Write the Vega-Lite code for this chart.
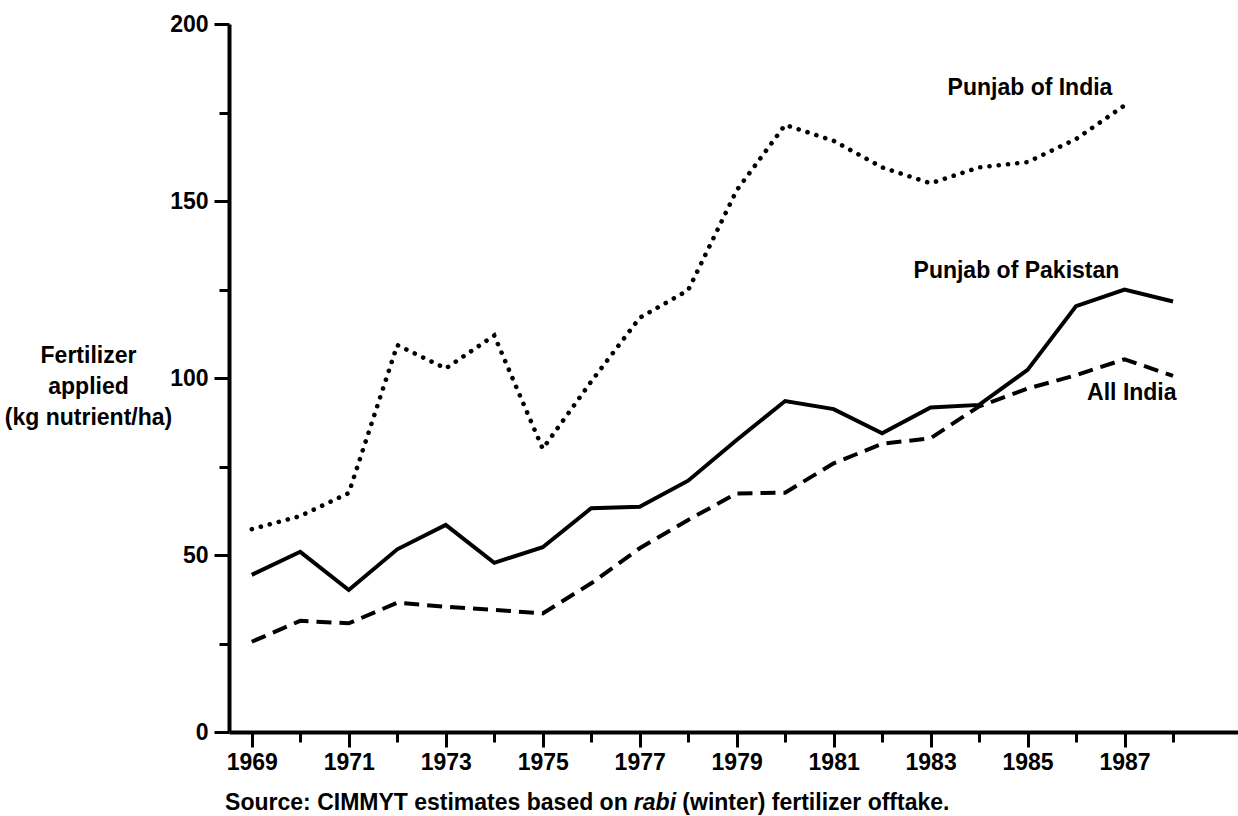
{
  "$schema": "https://vega.github.io/schema/vega-lite/v6.json",
  "width": 1009,
  "height": 708,
  "autosize": {"type": "none"},
  "padding": {"left": 229, "top": 24, "right": 0, "bottom": 84},
  "background": "white",
  "config": {"view": {"stroke": null}, "font": "Liberation Sans"},
  "datasets": {
    "series": [
      {"year": 1969, "series": "Punjab of India", "value": 57.3},
      {"year": 1970, "series": "Punjab of India", "value": 61},
      {"year": 1971, "series": "Punjab of India", "value": 67.5},
      {"year": 1972, "series": "Punjab of India", "value": 109.3},
      {"year": 1973, "series": "Punjab of India", "value": 102.7},
      {"year": 1974, "series": "Punjab of India", "value": 112},
      {"year": 1975, "series": "Punjab of India", "value": 80},
      {"year": 1976, "series": "Punjab of India", "value": 99},
      {"year": 1977, "series": "Punjab of India", "value": 117},
      {"year": 1978, "series": "Punjab of India", "value": 124.8},
      {"year": 1979, "series": "Punjab of India", "value": 153},
      {"year": 1980, "series": "Punjab of India", "value": 171.5},
      {"year": 1981, "series": "Punjab of India", "value": 167},
      {"year": 1982, "series": "Punjab of India", "value": 159.5},
      {"year": 1983, "series": "Punjab of India", "value": 155},
      {"year": 1984, "series": "Punjab of India", "value": 159.5},
      {"year": 1985, "series": "Punjab of India", "value": 161},
      {"year": 1986, "series": "Punjab of India", "value": 167.5},
      {"year": 1987, "series": "Punjab of India", "value": 177},
      {"year": 1969, "series": "Punjab of Pakistan", "value": 44.4},
      {"year": 1970, "series": "Punjab of Pakistan", "value": 50.9},
      {"year": 1971, "series": "Punjab of Pakistan", "value": 40.1},
      {"year": 1972, "series": "Punjab of Pakistan", "value": 51.6},
      {"year": 1973, "series": "Punjab of Pakistan", "value": 58.5},
      {"year": 1974, "series": "Punjab of Pakistan", "value": 47.8},
      {"year": 1975, "series": "Punjab of Pakistan", "value": 52.2},
      {"year": 1976, "series": "Punjab of Pakistan", "value": 63.2},
      {"year": 1977, "series": "Punjab of Pakistan", "value": 63.6},
      {"year": 1978, "series": "Punjab of Pakistan", "value": 71},
      {"year": 1979, "series": "Punjab of Pakistan", "value": 82.5},
      {"year": 1980, "series": "Punjab of Pakistan", "value": 93.5},
      {"year": 1981, "series": "Punjab of Pakistan", "value": 91.2},
      {"year": 1982, "series": "Punjab of Pakistan", "value": 84.4},
      {"year": 1983, "series": "Punjab of Pakistan", "value": 91.7},
      {"year": 1984, "series": "Punjab of Pakistan", "value": 92.4},
      {"year": 1985, "series": "Punjab of Pakistan", "value": 102.3},
      {"year": 1986, "series": "Punjab of Pakistan", "value": 120.3},
      {"year": 1987, "series": "Punjab of Pakistan", "value": 125},
      {"year": 1988, "series": "Punjab of Pakistan", "value": 121.6},
      {"year": 1969, "series": "All India", "value": 25.5},
      {"year": 1970, "series": "All India", "value": 31.4},
      {"year": 1971, "series": "All India", "value": 30.7},
      {"year": 1972, "series": "All India", "value": 36.5},
      {"year": 1973, "series": "All India", "value": 35.4},
      {"year": 1974, "series": "All India", "value": 34.5},
      {"year": 1975, "series": "All India", "value": 33.5},
      {"year": 1976, "series": "All India", "value": 42},
      {"year": 1977, "series": "All India", "value": 51.9},
      {"year": 1978, "series": "All India", "value": 59.9},
      {"year": 1979, "series": "All India", "value": 67.4},
      {"year": 1980, "series": "All India", "value": 67.6},
      {"year": 1981, "series": "All India", "value": 75.9},
      {"year": 1982, "series": "All India", "value": 81.4},
      {"year": 1983, "series": "All India", "value": 83},
      {"year": 1984, "series": "All India", "value": 92},
      {"year": 1985, "series": "All India", "value": 97},
      {"year": 1986, "series": "All India", "value": 100.8},
      {"year": 1987, "series": "All India", "value": 105.3},
      {"year": 1988, "series": "All India", "value": 100.6}
    ],
    "labels": [
      {"year": 1985.05, "value": 180, "text": "Punjab of India"},
      {"year": 1984.77, "value": 128.2, "text": "Punjab of Pakistan"},
      {"year": 1987.15, "value": 93.8, "text": "All India"}
    ],
    "source": [
      {"year": 1968.45, "value": -22, "text": "Source: CIMMYT estimates based on"},
      {"year": 1977.88, "value": -22, "text": "(winter) fertilizer offtake."}
    ],
    "sourceItalic": [
      {"year": 1976.88, "value": -22, "text": "rabi"}
    ]
  },
  "encoding": {
    "x": {
      "field": "year",
      "type": "quantitative",
      "scale": {"domain": [1968.53, 1989.34], "nice": false, "zero": false},
      "axis": {
        "values": [1969, 1970, 1971, 1972, 1973, 1974, 1975, 1976, 1977, 1978, 1979, 1980, 1981, 1982, 1983, 1984, 1985, 1986, 1987, 1988],
        "format": "d",
        "labelExpr": "datum.value % 2 === 1 ? datum.label : ''",
        "title": null,
        "grid": false,
        "domainColor": "black",
        "domainWidth": 4,
        "tickColor": "black",
        "tickWidth": 3,
        "tickSize": {"condition": {"test": "datum.value % 2 === 1", "value": 15}, "value": 10},
        "labelFont": "Liberation Sans",
        "labelFontSize": 23,
        "labelFontWeight": "bold",
        "labelColor": "black",
        "labelPadding": 4,
        "labelFlush": false,
        "labelOverlap": false
      }
    },
    "y": {
      "field": "value",
      "type": "quantitative",
      "scale": {"domain": [0, 200], "nice": false, "zero": true},
      "axis": {
        "values": [0, 25, 50, 75, 100, 125, 150, 175, 200],
        "labelExpr": "datum.value % 50 === 0 ? datum.label : ''",
        "grid": false,
        "domainColor": "black",
        "domainWidth": 4,
        "tickColor": "black",
        "tickWidth": 3,
        "tickSize": {"condition": {"test": "datum.value % 50 === 0", "value": 15}, "value": 10},
        "labelFont": "Liberation Sans",
        "labelFontSize": 23,
        "labelFontWeight": "bold",
        "labelColor": "black",
        "labelPadding": 6,
        "labelOverlap": false,
        "title": ["Fertilizer", "applied", "(kg nutrient/ha)"],
        "titleAngle": 0,
        "titleAlign": "center",
        "titleBaseline": "middle",
        "titleX": -141,
        "titleY": 331,
        "titleFont": "Liberation Sans",
        "titleFontSize": 23,
        "titleFontWeight": "bold",
        "titleLineHeight": 31,
        "titleColor": "black"
      }
    }
  },
  "layer": [
    {
      "data": {"name": "series"},
      "transform": [{"filter": "datum.series === 'Punjab of India'"}],
      "mark": {"type": "line", "color": "black", "strokeWidth": 4.6, "strokeDash": [0.1, 9.2], "strokeCap": "round"}
    },
    {
      "data": {"name": "series"},
      "transform": [{"filter": "datum.series === 'Punjab of Pakistan'"}],
      "mark": {"type": "line", "color": "black", "strokeWidth": 4, "strokeJoin": "miter"}
    },
    {
      "data": {"name": "series"},
      "transform": [{"filter": "datum.series === 'All India'"}],
      "mark": {"type": "line", "color": "black", "strokeWidth": 4, "strokeDash": [15, 8], "strokeCap": "butt"}
    },
    {
      "data": {"name": "labels"},
      "mark": {"type": "text", "align": "center", "baseline": "alphabetic", "font": "Liberation Sans", "fontSize": 23, "fontWeight": "bold", "color": "black"},
      "encoding": {"text": {"field": "text"}}
    },
    {
      "data": {"name": "source"},
      "mark": {"type": "text", "align": "left", "baseline": "alphabetic", "font": "Liberation Sans", "fontSize": 23, "fontWeight": "bold", "color": "black", "clip": false},
      "encoding": {"text": {"field": "text"}}
    },
    {
      "data": {"name": "sourceItalic"},
      "mark": {"type": "text", "align": "left", "baseline": "alphabetic", "font": "Liberation Sans", "fontSize": 23, "fontWeight": "bold", "fontStyle": "italic", "color": "black", "clip": false},
      "encoding": {"text": {"field": "text"}}
    }
  ]
}
